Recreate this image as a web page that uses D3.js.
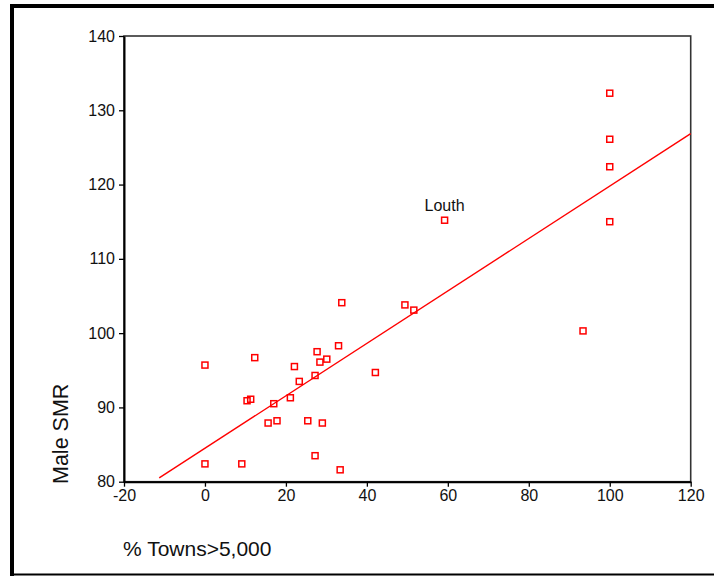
<!DOCTYPE html>
<html>
<head>
<meta charset="utf-8">
<script src="https://cdn.jsdelivr.net/npm/d3@7"></script>
<style>
   body { margin: 0; background: #fff; }
   svg text { font-family: Arial, "Liberation Sans", sans-serif; }
</style>
</head>
<body>
<div id="chart"></div>
<script>
// Percent of population in towns > 5,000 (x) against male SMR (y)
const townsPct = [0, 0, 9.1, 12.3, 10.4, 11.3, 17.0, 15.6, 17.8, 21.1, 22.1, 23.3, 25.4, 27.2, 27.7,
   27.2, 28.4, 29.0, 30.1, 33.0, 33.4, 33.8, 42.1, 49.4, 51.6, 59.2, 93.4, 100, 100, 100, 100];
const maleSMR = [95.7, 82.4, 82.4, 96.7, 90.9, 91.1, 90.5, 87.9, 88.2, 91.3, 95.5, 93.5, 88.2, 83.5, 97.5,
   94.3, 96.1, 87.9, 96.5, 98.3, 81.6, 104.1, 94.7, 103.8, 103.1, 115.2, 100.3, 132.3, 126.1, 122.4, 115.0];
const pointLabels = ["", "", "", "", "", "", "", "", "", "", "", "", "", "", "",
   "", "", "", "", "", "", "", "", "", "", "Louth", "", "", "", "", ""];

// Fitted line
const fitIntercept = 84.5;
const fitSlope = 0.353;
const fitRange = [-11.3, 120];

const xTicks = [-20, 0, 20, 40, 60, 80, 100, 120];
const yTicks = [80, 90, 100, 110, 120, 130, 140];

const width = 714, height = 576;
const margin = { left: 124, right: 23, top: 36, bottom: 94 };

const svg = d3.select("#chart").append("svg")
   .attr("width", width)
   .attr("height", height);

// Outer frame
svg.append("line").attr("x1", 12).attr("x2", width).attr("y1", 6).attr("y2", 6)
   .attr("stroke", "#000").attr("stroke-width", 4);
svg.append("line").attr("x1", 12).attr("x2", 12).attr("y1", 4).attr("y2", 576)
   .attr("stroke", "#000").attr("stroke-width", 4);
svg.append("line").attr("x1", 10).attr("x2", width).attr("y1", 574.5).attr("y2", 574.5)
   .attr("stroke", "#000").attr("stroke-width", 2);

const x = d3.scaleLinear().domain([-20, 120]).range([margin.left, width - margin.right - 0.3]);
const y = d3.scaleLinear().domain([80, 140]).range([height - margin.bottom - 0.3, margin.top]);

// Top and right frame of the plot
svg.append("rect")
   .attr("x", x(-20)).attr("y", y(140))
   .attr("width", x(120) - x(-20)).attr("height", y(80) - y(140))
   .attr("fill", "none").attr("stroke", "#333").attr("stroke-width", 1.6);

const xAxis = svg.append("g")
   .attr("transform", `translate(0,${y(80)})`)
   .call(d3.axisBottom(x).tickValues(xTicks).tickFormat(d => String(d))
      .tickSize(5).tickSizeOuter(0).tickPadding(3));
const yAxis = svg.append("g")
   .attr("transform", `translate(${x(-20)},0)`)
   .call(d3.axisLeft(y).tickValues(yTicks).tickFormat(d => String(d))
      .tickSize(5).tickSizeOuter(0).tickPadding(4));

[xAxis, yAxis].forEach(g => {
   g.select(".domain").attr("stroke", "#000").attr("stroke-width", 2);
   g.selectAll(".tick line").attr("stroke", "#000").attr("stroke-width", 1.3);
   g.selectAll(".tick text")
      .attr("fill", "#111")
      .style("font-size", "16px")
      .style("font-family", "Arial, 'Liberation Sans', sans-serif");
});

// Fit line
svg.append("line")
   .attr("x1", x(fitRange[0])).attr("y1", y(fitIntercept + fitSlope * fitRange[0]))
   .attr("x2", x(fitRange[1])).attr("y2", y(fitIntercept + fitSlope * fitRange[1]))
   .attr("stroke", "#f00").attr("stroke-width", 1.4);

// Points
const pts = townsPct.map((v, i) => ({ x: v, y: maleSMR[i], label: pointLabels[i] }));
const s = 6;
svg.append("g")
   .selectAll("rect")
   .data(pts)
   .join("rect")
   .attr("x", d => x(d.x) - s / 2)
   .attr("y", d => y(d.y) - s / 2)
   .attr("width", s).attr("height", s)
   .attr("fill", "none")
   .attr("stroke", "#f00")
   .attr("stroke-width", 1.5);

svg.append("g")
   .selectAll("text")
   .data(pts.filter(d => d.label))
   .join("text")
   .attr("x", d => x(d.x))
   .attr("y", d => y(d.y) - 9)
   .attr("text-anchor", "middle")
   .attr("fill", "#111")
   .style("font-size", "16px")
   .text(d => d.label);

// Axis titles
svg.append("text")
   .attr("x", 123).attr("y", 556)
   .attr("fill", "#111")
   .style("font-size", "21px")
   .text("% Towns>5,000");

svg.append("text")
   .attr("transform", `translate(68,484) rotate(-90)`)
   .attr("fill", "#111")
   .style("font-size", "21.5px")
   .text("Male SMR");
</script>
</body>
</html>
